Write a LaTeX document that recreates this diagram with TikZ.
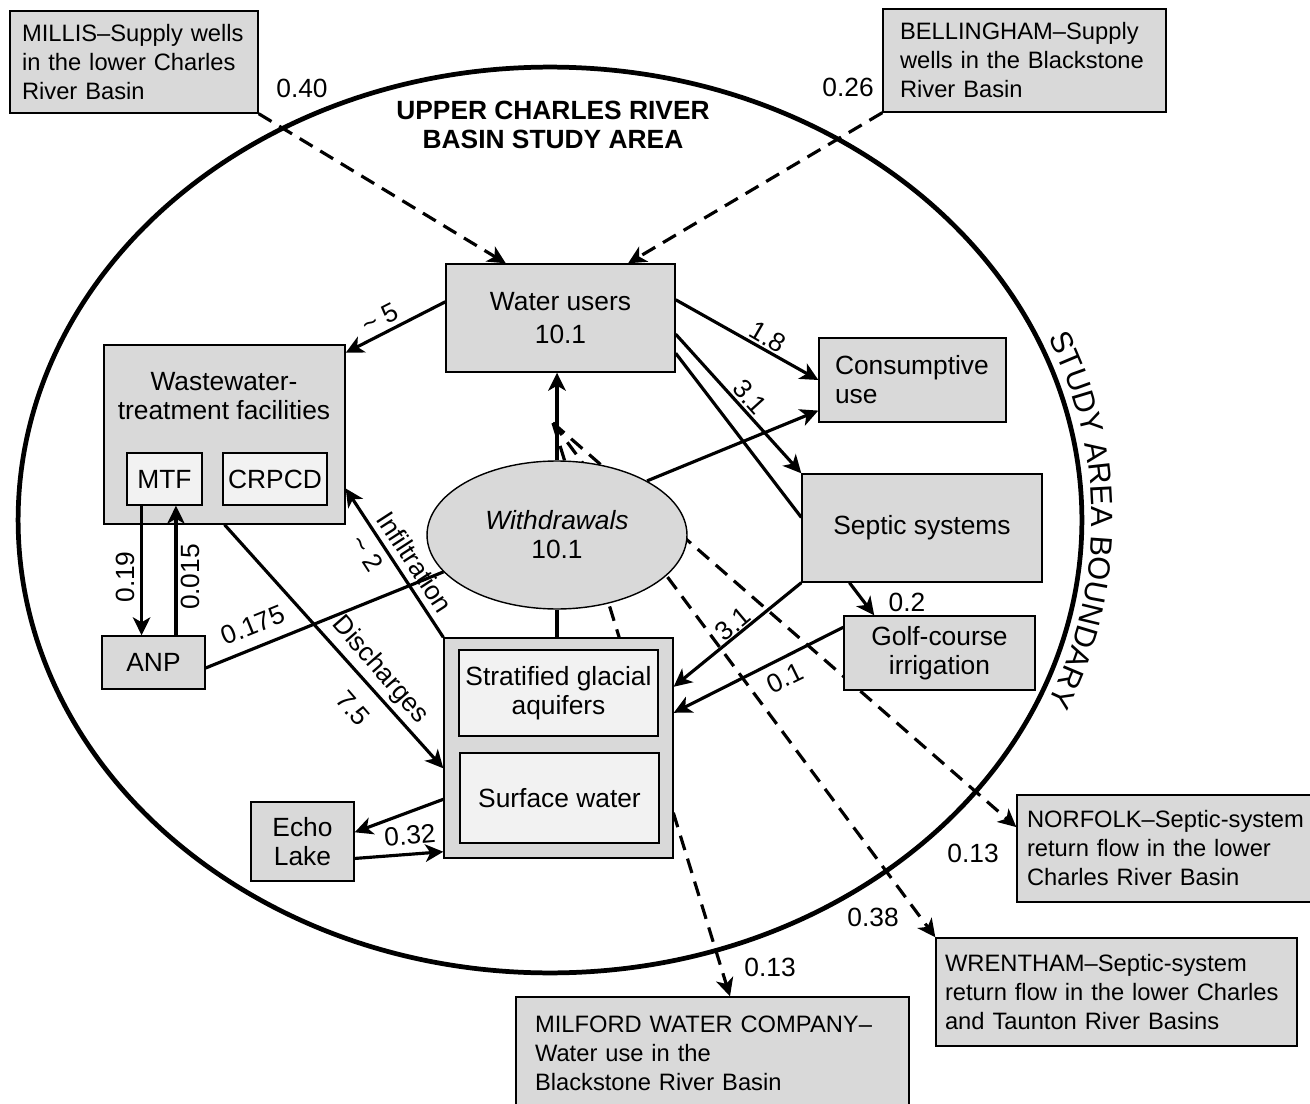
\documentclass[tikz,border=0pt]{standalone}
\usepackage{fontspec}
\setmainfont{Liberation Sans}
\usetikzlibrary{arrows.meta, calc, shapes.geometric, decorations.text}
\definecolor{boxgray}{gray}{0.85}
\definecolor{innergray}{gray}{0.95}
\newcommand{\boxfont}{\fontsize{15}{16.5}\selectfont}
\newcommand{\outfont}{\fontsize{13.5}{16.5}\selectfont}
\newcommand{\rimfont}{\fontsize{17.5}{20}\selectfont}

\begin{document}
\begin{tikzpicture}[x=0.02cm, y=-0.02cm,
  box/.style={draw, line width=0.8pt, fill=boxgray, inner sep=0pt, font=\boxfont, align=center},
  inbox/.style={box, fill=innergray},
  outbox/.style={box, font=\outfont, align=left},
  num/.style={font=\boxfont, inner sep=1pt},
  flow/.style={line width=1.8pt, -{Stealth[length=3.6mm, width=3.5mm, inset=1mm]}},
  link/.style={line width=1.8pt},
  export/.style={flow, dash pattern=on 3mm off 1.8mm}]
\useasboundingbox (0,0) rectangle (1310,1104);
\draw[line width=2.7pt] (550,520) ellipse [x radius=10.64cm, y radius=9.06cm];
\path[decorate, decoration={text along path, text align=center, text={|\rimfont|STUDY AREA BOUNDARY}}]
  plot[domain=-40:40, samples=90] ({550+542*cos(\x)}, {520+463*sin(\x)});
\path
(553,125) node[font=\boxfont\bfseries, align=center] (title) {UPPER CHARLES RIVER\\BASIN STUDY AREA};
\path
(134,62) node[outbox, minimum width=4.96cm, minimum height=2.04cm, text width=4.48cm] (millis) {MILLIS–Supply wells\\in the lower Charles\\River Basin};
\path
(1024.5,60.5) node[outbox, minimum width=5.66cm, minimum height=2.06cm, text width=4.98cm] (bell) {BELLINGHAM–Supply\\wells in the Blackstone\\River Basin};
\path
(712.5,1053.5) node[outbox, minimum width=7.86cm, minimum height=2.26cm, text width=7.1cm] (milford) {MILFORD WATER COMPANY–\\Water use in the\\Blackstone River Basin};
\path
(1168.5,848.5) node[outbox, minimum width=6.06cm, minimum height=2.14cm, text width=5.66cm] (norfolk) {NORFOLK–Septic-system\\return flow in the lower\\Charles River Basin};
\path
(1116.5,992) node[outbox, minimum width=7.22cm, minimum height=2.16cm, text width=6.86cm] (wren) {WRENTHAM–Septic-system\\return flow in the lower Charles\\and Taunton River Basins};
\coordinate (split) at (553,423);
\draw[export] (split) -- (milford.73);
\draw[export] (split) -- (wren.north west);
\draw[export] (split) -- (norfolk.172);
\path
(560.5,318) node[box, minimum width=4.58cm, minimum height=2.16cm] (wu) {Water users\\[2pt]10.1};
\path
(224.5,434.5) node[box, minimum width=4.82cm, minimum height=3.58cm] (wwtf) {};
\path
(224,396) node[font=\boxfont, align=center] (wwtext) {Wastewater-\\treatment facilities};
\path
(164.5,479) node[inbox, minimum width=1.5cm, minimum height=1.04cm] (mtf) {MTF};
\path
(275,479) node[inbox, minimum width=2.08cm, minimum height=1.04cm] (crpcd) {CRPCD};
\path
(153.5,662.5) node[box, minimum width=2.06cm, minimum height=1.06cm] (anp) {ANP};
\path
(557,535) node[ellipse, draw, line width=0.8pt, fill=boxgray, minimum width=5.2cm, minimum height=2.96cm, inner sep=0pt, font=\boxfont, align=center] (wd) {\textit{Withdrawals}\\10.1};
\path
(912.5,380) node[box, minimum width=3.74cm, minimum height=1.68cm, text width=3.1cm, align=left] (cons) {Consumptive\\use};
\path
(922,528) node[box, minimum width=4.8cm, minimum height=2.16cm] (sep) {Septic systems};
\path
(939.5,653) node[box, minimum width=3.82cm, minimum height=1.48cm] (golf) {Golf-course\\irrigation};
\path
(558.5,748) node[box, minimum width=4.58cm, minimum height=4.4cm] (aq) {};
\path
(558.5,693) node[inbox, minimum width=3.98cm, minimum height=1.72cm] (strat) {Stratified glacial\\aquifers};
\path
(559.5,798) node[inbox, minimum width=3.98cm, minimum height=1.8cm] (sw) {Surface water};
\path
(302.5,841.5) node[box, minimum width=2.06cm, minimum height=1.58cm] (echo) {Echo\\Lake};
\coordinate (mtfout) at ($(mtf.south west)!0.2!(mtf.south east)$);
\coordinate (mtfin) at ($(mtf.south west)!0.65!(mtf.south east)$);
\draw[export] (millis.south east) -- (wu.135);
\draw[export] (bell.south west) -- (wu.39);
\draw[flow] (wd.north) -- (wd.north |- wu.south);
\draw[link] (wd.south) -- (wd.south |- aq.north);
\draw[flow] (wu.172) -- (wwtf.34);
\draw[flow] (wu.9) -- (cons.west);
\draw[flow] (wd.31) -- (cons.198);
\draw[flow] (wu.-8) -- (sep.north west);
\draw[link] (wu.-17) -- (sep.175);
\draw[flow] (sep.south west) -- (aq.28);
\draw[flow] (sep.217) -- (golf.150);
\draw[flow] (golf.165) -- (aq.17);
\draw[link] (anp.-6) -- (wd.198);
\draw[flow] (mtfout) -- (mtfout |- anp.north);
\draw[flow] (mtfin |- anp.north) -- (mtfin);
\draw[flow] (aq.north west) -- (wwtf.-24);
\draw[flow] (wwtf.south) -- (aq.190);
\draw[flow] (aq.204) -- (echo.10);
\draw[flow] (echo.-18) -- (aq.222);
\foreach \x/\y/\r/\lbl [count=\i] in {302/88/0/0.40, 848/87/0/0.26, 380/318/27/{\textasciitilde\ 5},
  768/337/-30/1.8, 750/397/-48/3.1, 733/624/40/3.1, 907/602/0/0.2, 785/678/26/0.1,
  253/625/22/0.175, 125/577/90/0.19, 190/577/90/0.015, 415/562/-57/Infiltration,
  367/553/-57/{\textasciitilde\ 2}, 380/670/-49/Discharges, 353/708/-49/7.5, 410/835/5/0.32,
  770/967/0/0.13, 973/853/0/0.13, 873/917/0/0.38}
  \path (\x,\y) node[num, rotate=\r] (lab\i) {\lbl};
\end{tikzpicture}
\end{document}
